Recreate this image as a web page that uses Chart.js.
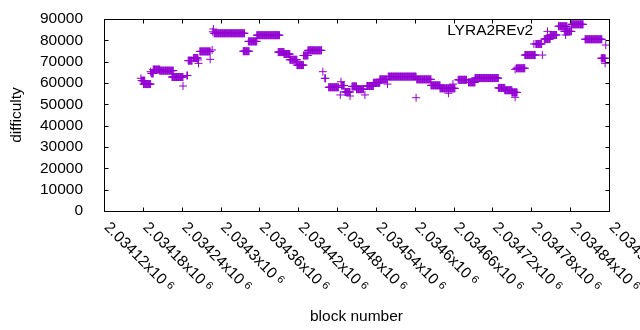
<!DOCTYPE html>
<html>
<head>
<meta charset="utf-8">
<script src="https://cdn.jsdelivr.net/npm/chart.js@4/dist/chart.umd.min.js"></script>
<style>
  html, body { margin: 0; padding: 0; background: #fff; }
  #grafico { display: block; }
</style>
</head>
<body>
<canvas id="grafico" width="640" height="330"></canvas>
<script>
var serieNome = 'LYRA2REv2';
var xTickLabels = ['2.03412', '2.03418', '2.03424', '2.0343', '2.03436', '2.03442', '2.03448',
                   '2.03454', '2.0346', '2.03466', '2.03472', '2.03478', '2.03484', '2.0349'];
var yTicks = [0, 10000, 20000, 30000, 40000, 50000, 60000, 70000, 80000, 90000];

// runs of blocks with the same difficulty (start block, end block, difficulty)
var runStart = [2034177, 2034178, 2034181, 2034192, 2034193, 2034196, 2034206, 2034225, 2034242, 2034248,
                2034250, 2034258, 2034265, 2034266, 2034268, 2034284, 2034287, 2034288, 2034289, 2034290,
                2034335, 2034343, 2034356, 2034389, 2034398, 2034407, 2034418, 2034428, 2034435, 2034458,
                2034461, 2034467, 2034485, 2034486, 2034487, 2034492, 2034500, 2034503, 2034510, 2034523,
                2034526, 2034536, 2034546, 2034558, 2034559, 2034602, 2034603, 2034625, 2034639, 2034652,
                2034659, 2034667, 2034683, 2034693, 2034729, 2034739, 2034750, 2034755, 2034755, 2034757,
                2034770, 2034797, 2034784, 2034787, 2034800, 2034805, 2034809, 2034822, 2034831, 2034833,
                2034842, 2034863, 2034888, 2034894, 2034895];
var runEnd =   [2034177, 2034183, 2034192, 2034192, 2034196, 2034206, 2034227, 2034242, 2034242, 2034249,
                2034256, 2034265, 2034265, 2034266, 2034284, 2034284, 2034287, 2034288, 2034289, 2034337,
                2034344, 2034356, 2034391, 2034398, 2034407, 2034418, 2034428, 2034435, 2034456, 2034458,
                2034462, 2034482, 2034485, 2034486, 2034491, 2034500, 2034500, 2034510, 2034521, 2034523,
                2034536, 2034546, 2034557, 2034558, 2034602, 2034602, 2034625, 2034639, 2034662, 2034652,
                2034659, 2034680, 2034693, 2034729, 2034739, 2034750, 2034758, 2034755, 2034755, 2034770,
                2034786, 2034797, 2034784, 2034796, 2034809, 2034805, 2034819, 2034835, 2034842, 2034833,
                2034860, 2034889, 2034894, 2034894, 2034895];
var runDifficulty = [62200, 61100, 59500, 65300, 64500, 66300, 65800, 62800, 58600, 63500,
                     70500, 71700, 70800, 69200, 74800, 71100, 75500, 84000, 85300, 83300,
                     74900, 79500, 82400, 74500, 73600, 70900, 68400, 72900, 75300, 65300,
                     62200, 58000, 54400, 60600, 58800, 55800, 53900, 58400, 57100, 54400,
                     58600, 60100, 61700, 59500, 63000, 53100, 61700, 58900, 57500, 55200,
                     59500, 61500, 60300, 62300, 57700, 56600, 55600, 53300, 66400, 66900,
                     73100, 73100, 78300, 78300, 80600, 84200, 82500, 86600, 84200, 82500,
                     87500, 80500, 71600, 69200, 77800];

var punti = [];
for (var i = 0; i < runStart.length; i++) {
    for (var b = runStart[i]; b <= runEnd[i]; b++) {
        punti.push({x: b, y: runDifficulty[i]});
    }
}

var xTickValues = xTickLabels.map(function(s) { return Math.round(parseFloat(s) * 1e6); });
var fontFamily = '"Liberation Sans", Arial, sans-serif';

var cornice = {
    id: 'cornice',
    afterDraw: function(chart) {
        var ctx = chart.ctx;
        var a = chart.chartArea;
        var xs = chart.scales.x, ys = chart.scales.y;
        var tl = 4;
        ctx.save();
        ctx.strokeStyle = '#000';
        ctx.lineWidth = 1;
        ctx.beginPath();
        xs.ticks.forEach(function(t) {
            var px = Math.round(xs.getPixelForValue(t.value)) + 0.5;
            ctx.moveTo(px, a.bottom + 0.5); ctx.lineTo(px, a.bottom + 0.5 - tl);
            ctx.moveTo(px, a.top + 0.5); ctx.lineTo(px, a.top + 0.5 + tl);
        });
        ys.ticks.forEach(function(t) {
            var py = Math.round(ys.getPixelForValue(t.value)) + 0.5;
            ctx.moveTo(a.left + 0.5, py); ctx.lineTo(a.left + 0.5 + tl, py);
            ctx.moveTo(a.right + 0.5, py); ctx.lineTo(a.right + 0.5 - tl, py);
        });
        ctx.stroke();
        ctx.strokeRect(a.left + 0.5, a.top + 0.5, a.right - a.left, a.bottom - a.top);

        // rotated x tick labels
        ctx.fillStyle = '#000';
        ctx.textBaseline = 'middle';
        ctx.textAlign = 'left';
        xs.ticks.forEach(function(t, i) {
            var px = xs.getPixelForValue(t.value);
            ctx.save();
            ctx.translate(px + 2.5, a.bottom + 14);
            ctx.rotate(Math.PI / 4);
            ctx.font = '15.5px ' + fontFamily;
            var txt = xTickLabels[i] + 'x10';
            ctx.fillText(txt, 0, 0);
            var w = ctx.measureText(txt).width;
            ctx.font = '11px ' + fontFamily;
            ctx.fillText('6', w + 4, -2);
            ctx.restore();
        });

        // key
        ctx.font = '15.5px ' + fontFamily;
        ctx.textAlign = 'right';
        ctx.fillText(serieNome, a.right - 76, a.top + 12);
        ctx.restore();
    }
};

new Chart(document.getElementById('grafico'), {
    type: 'scatter',
    data: {
        datasets: [{
            label: serieNome,
            data: punti,
            pointStyle: 'cross',
            pointRadius: 4,
            pointHoverRadius: 4,
            pointBorderWidth: 1,
            borderColor: '#9400d3',
            backgroundColor: '#9400d3'
        }]
    },
    options: {
        responsive: false,
        animation: false,
        events: [],
        layout: { padding: { top: 19, right: 31, left: 0, bottom: 0 } },
        plugins: { legend: { display: false }, tooltip: { enabled: false } },
        scales: {
            x: {
                type: 'linear',
                min: xTickValues[0],
                max: xTickValues[xTickValues.length - 1],
                afterBuildTicks: function(s) { s.ticks = xTickValues.map(function(v) { return {value: v}; }); },
                afterFit: function(s) { s.height = 119; s.paddingLeft = 0; s.paddingRight = 0; },
                grid: { display: false },
                border: { display: false },
                ticks: { display: false },
                title: { display: true, text: 'block number', color: '#000',
                         font: { family: fontFamily, size: 15.5 }, padding: { top: 0, bottom: 4 } }
            },
            y: {
                min: 0,
                max: 90000,
                afterBuildTicks: function(s) { s.ticks = yTicks.map(function(v) { return {value: v}; }); },
                afterFit: function(s) { s.width = 104; s.paddingTop = 0; s.paddingBottom = 0; },
                grid: { display: false },
                border: { display: false },
                ticks: { color: '#000', padding: 13, autoSkip: false,
                         font: { family: fontFamily, size: 15.5 },
                         callback: function(v) { return String(v); } },
                title: { display: true, text: 'difficulty', color: '#000',
                         font: { family: fontFamily, size: 15.5 }, padding: { top: 7, bottom: 0 } }
            }
        }
    },
    plugins: [cornice]
});
</script>
</body>
</html>
